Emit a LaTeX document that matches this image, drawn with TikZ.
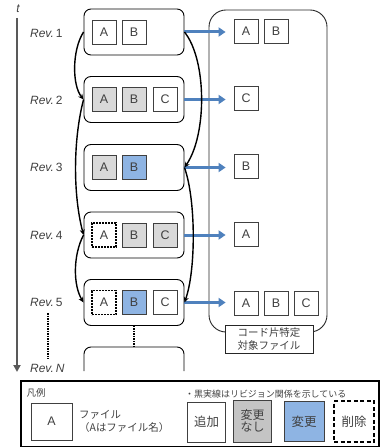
\documentclass[tikz,border=0pt]{standalone}
\usepackage{fontspec}
\setmainfont{Liberation Sans}
\newfontfamily\jp{Noto Sans CJK JP}
\usetikzlibrary{arrows.meta}
\definecolor{txt}{HTML}{404040}
\definecolor{grayf}{HTML}{D9D9D9}
\definecolor{grayl}{HTML}{C4C4C4}
\definecolor{bluef}{HTML}{8EB4E3}
\definecolor{flowblue}{HTML}{4F81BD}
\definecolor{axisc}{HTML}{595959}
\tikzset{
  revbox/.style={draw=black, line width=0.9bp, rounded corners=7bp, minimum width=100bp, minimum height=46bp, inner sep=0pt},
  file/.style={draw=black!75, line width=0.8bp, minimum width=24bp, minimum height=24bp, inner sep=0pt, fill=white, text=txt, font=\fontsize{12.5}{12.5}\selectfont},
  same/.style={file, fill=grayf},
  chg/.style={file, fill=bluef},
  del/.style={file, draw=black, line width=1.3bp, dash pattern=on 2bp off 1bp},
  revlbl/.style={anchor=east, text=txt, font=\fontsize{12}{12}\selectfont},
  link/.style={line width=1.4bp, -{Stealth[length=5.5bp,width=5bp]}},
  flow/.style={draw=flowblue, line width=3bp, shorten >=8bp, -{Triangle[length=7bp,width=9bp]}},
  dots/.style={line width=1.8bp, dash pattern=on 1.5bp off 1bp},
  legbox/.style={draw=black!75, line width=0.9bp, minimum width=38bp, minimum height=40bp, inner sep=0pt, text=txt, font=\jp\fontsize{12.5}{13}\selectfont, align=center},
}
\begin{document}
\begin{tikzpicture}[x=1bp,y=-1bp]
\useasboundingbox (0,0) rectangle (381,448);
% time axis
\coordinate (ax0) at (17,18);
\coordinate (ax1) at (17,372);
\draw[draw=axisc, line width=2.3bp, -{Triangle[length=7bp,width=7bp]}] (ax0) -- (ax1);
\node[text=txt, font=\fontsize{12}{12}\selectfont\itshape] (tl) at (18,9) {t};
% revision labels
\node[revlbl] (l1) at (66,33) {\textit{Rev.}\,1};
\node[revlbl] (l2) at (66,100) {\textit{Rev.}\,2};
\node[revlbl] (l3) at (66,167) {\textit{Rev.}\,3};
\node[revlbl] (l4) at (66,235) {\textit{Rev.}\,4};
\node[revlbl] (l5) at (66,302) {\textit{Rev.}\,5};
\node[revlbl] (lN) at (68,368) {\textit{Rev.\,N}};
\coordinate (ld0) at (48,313);
\coordinate (ld1) at (48,359);
\draw[dots] (ld0) -- (ld1);
% right panel
\node[draw=black!85, line width=0.9bp, rounded corners=17bp, minimum width=118bp, minimum height=322bp, inner sep=0pt] (panel) at (268,171) {};
\node[draw=black!85, line width=0.9bp, fill=white, minimum width=88bp, minimum height=28bp, inner sep=0pt, align=center, text=txt, font=\jp\fontsize{10.5}{13}\selectfont] (plbl) at (269,339) {コード片特定\\対象ファイル};
% revision boxes
\node[revbox] (r1) at (134,32) {};
\node[revbox] (r2) at (134,99.5) {};
\node[revbox] (r3) at (134,167.5) {};
\node[revbox] (r4) at (134,235) {};
\node[revbox] (r5) at (134,302.5) {};
% files in revisions
\node[file] (r1a) at (104,32) {A};
\node[file] (r1b) at (134,32) {B};
\node[same] (r2a) at (104,99.5) {A};
\node[same] (r2b) at (134,99.5) {B};
\node[file] (r2c) at (165,99.5) {C};
\node[same] (r3a) at (104,167.5) {A};
\node[chg] (r3b) at (134,167.5) {B};
\node[del] (r4a) at (104,235) {A};
\node[same] (r4b) at (134,235) {B};
\node[same] (r4c) at (165,235) {C};
\node[del] (r5a) at (104,302.5) {A};
\node[chg] (r5b) at (134,302.5) {B};
\node[file] (r5c) at (165,302.5) {C};
% Rev N box
\coordinate (nTop) at (134,347);
\draw[line width=0.9bp, rounded corners=7bp] (84,371) -- (84,347) -- (184,347) -- (184,371);
\draw[dots] (r5.south) -- (nTop);
% target files
\node[file] (t1a) at (246,31) {A};
\node[file] (t1b) at (276,31) {B};
\node[file] (t2c) at (246,98.5) {C};
\node[file] (t3b) at (246,166.5) {B};
\node[file] (t4a) at (246,234.5) {A};
\node[file] (t5a) at (246,303) {A};
\node[file] (t5b) at (276,303) {B};
\node[file] (t5c) at (306,303) {C};
% blue arrows
\draw[flow] (r1.east) -- (r1.east -| t1a.west);
\draw[flow] (r2.east) -- (r2.east -| t2c.west);
\draw[flow] (r3.east) -- (r3.east -| t3b.west);
\draw[flow] (r4.east) -- (r4.east -| t4a.west);
\draw[flow] (r5.east) -- (r5.east -| t5a.west);
% revision relations
\draw[link] (r1.west) .. controls (72,50) and (72,85) .. (r2.west);
\draw[link] (r2.west) .. controls (73,140) and (73,195) .. (r4.west);
\draw[link] (r4.west) .. controls (73,255) and (73,285) .. (r5.west);
\draw[link] (r1.east) .. controls (207,60) and (207,135) .. (r3.east);
\draw[link] (r3.east) .. controls (196,200) and (196,270) .. (r5.east);
% legend
\node[draw=black, line width=1.2bp, minimum width=358bp, minimum height=65.5bp, inner sep=0pt] (legend) at (200,413.75) {};
\node[text=txt, font=\jp\fontsize{9.5}{9.5}\selectfont] (lgt) at (36,393) {凡例};
\node[draw=black!75, line width=0.8bp, minimum width=41bp, minimum height=37bp, inner sep=0pt, text=txt, font=\fontsize{12.5}{12.5}\selectfont] (lga) at (51.5,421.5) {A};
\node[anchor=west, align=left, text=txt, font=\jp\fontsize{10.5}{13.5}\selectfont, inner sep=0pt] (lgf) at (79,421.5) {ファイル\\（Aはファイル名）};
\node[anchor=west, text=txt, font=\jp\fontsize{9}{9}\selectfont, inner sep=0pt] (lgn) at (185,394) {・黒実線はリビジョン関係を示している};
\node[legbox] (lg1) at (206.5,422) {追加};
\node[legbox, fill=grayl, minimum height=42bp, font=\jp\fontsize{12}{12.5}\selectfont] (lg2) at (252.5,421) {変更\\なし};
\node[legbox, fill=bluef, minimum width=40bp] (lg3) at (304,421.5) {変更};
\node[legbox, draw=black, line width=1.6bp, dash pattern=on 4bp off 2.5bp, minimum width=40bp, minimum height=41bp] (lg4) at (354,421.5) {削除};
\end{tikzpicture}
\end{document}
